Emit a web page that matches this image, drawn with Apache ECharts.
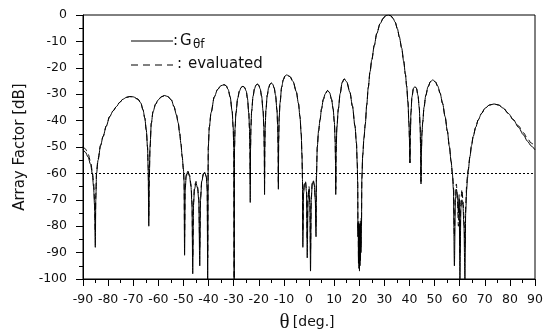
<!DOCTYPE html>
<html><head><meta charset="utf-8">
<script src="https://cdn.jsdelivr.net/npm/echarts@6/dist/echarts.min.js"></script>
<style>html,body{margin:0;padding:0;background:#fff}#c{width:550px;height:335px}</style>
</head><body><div id="c"></div>
<script>
// angle samples (deg)
const theta = [
-90,-89,-88,-87,-86.3,-85.8,-85.4,-85.1,
-84.9,-84.6,-84.0,-83.0,-82.0,-80.7,-79.4,-78.0,-76.7,-75.4,-74.1,-72.7,-71.4,-70.0,-68.1,-67.0,-66.1,-65.4,-64.8,-64.3,-64.05,-63.8,
-63.6,-63.3,-62.8,-62.1,-61.1,-60.1,-58.8,-57.5,-56.2,-54.8,-53.8,-52.8,-52.1,-51.5,-51.0,-50.5,-50.0,-49.75,-49.55,
-49.3,-48.9,-48.3,-47.6,-47.0,-46.6,-46.3,-46.0,-45.6,-45.0,-44.4,-43.9,-43.5,-43.2,-42.7,-42.0,-41.4,-40.9,-40.55,-40.35,
-40.1,-39.7,-39.0,-37.7,-36.4,-35.1,-33.8,-33.0,-32.2,-31.4,-30.6,-30.2,-29.96,-29.8,
-29.65,-29.45,-29.1,-28.4,-27.7,-27.0,-26.3,-25.7,-25.0,-24.5,-23.98,-23.69,-23.52,-23.4,
-23.29,-23.12,-22.84,-22.28,-21.72,-21.16,-20.6,-20.02,-19.44,-18.86,-18.28,-17.99,-17.82,-17.7,
-17.59,-17.43,-17.16,-16.62,-16.08,-15.54,-15.0,-14.44,-13.88,-13.32,-12.76,-12.48,-12.31,-12.2,
-12.07,-11.87,-11.54,-10.88,-10.22,-9.56,-8.9,-7.62,-6.34,-5.06,-4.2,-3.6,-3.1,-2.8,-2.6,-2.45,
-2.2,-1.8,-1.4,-1.0,-0.7,-0.4,0.0,0.35,0.6,0.9,1.3,1.7,2.1,2.5,2.8,
2.95,3.3,3.8,4.4,5.0,5.7,6.5,7.4,8.2,9.0,9.6,10.1,10.4,10.55,10.65,
10.8,11.1,11.7,12.4,13.2,14.0,15.0,16.3,17.3,18.3,18.9,19.2,19.4,
19.5,19.6,19.7,19.8,19.9,20.0,20.1,20.2,20.3,20.4,20.5,20.6,20.7,20.8,20.9,
21.05,21.4,21.9,22.4,23.0,23.6,24.3,25.0,26.0,27.0,28.3,29.6,30.6,31.6,32.6,33.5,34.3,35.2,36.0,36.9,37.7,38.4,38.9,39.4,39.8,40.05,40.2,
40.35,40.6,41.0,41.6,42.2,42.8,43.4,43.9,44.25,44.45,44.6,
44.75,45.0,45.3,45.8,46.5,47.4,48.4,49.3,50.3,51.3,52.2,53.2,54.2,55.1,55.9,56.6,57.1,57.5,
57.9,58.3,58.7,59.1,59.5,59.8,60.1,60.5,60.9,61.3,61.7,62.1,62.4,62.8,
63.1,63.4,64.1,64.7,65.4,66.4,67.4,68.7,70.1,71.9,73.7,75.5,77.4,79.4,81.4,83.4,85.4,87.0,88.5,90
];
// G_theta_f (dB)
const gainSolid = [
-51.0,-52.0,-53.8,-56.5,-60,-65,-72,-88,
-70,-60,-55,-49.5,-46,-42,-38.5,-36.3,-34.7,-33.1,-31.9,-31.2,-30.9,-31.0,-31.9,-33.3,-35.9,-39,-43.5,-50,-58,-80,
-62,-50,-41,-36.6,-33.8,-32.2,-31,-30.5,-30.9,-32.2,-34.6,-37.8,-40.8,-44.8,-48.8,-53.6,-58.5,-63,-91,
-66,-61.2,-59.3,-61,-65,-72,-98,-72,-66,-63.7,-65.5,-70,-95,-70,-63,-60.2,-59.7,-61.5,-66,-100,
-50,-42.5,-37,-31,-28.2,-26.8,-26.4,-26.8,-28.2,-31,-36.5,-42.5,-50,-100,
-50,-43,-37.2,-31.6,-28.8,-27.4,-27.0,-27.4,-28.8,-31.6,-37.2,-43,-51,-71,
-51,-42.2,-36.4,-30.8,-28.0,-26.6,-26.2,-26.6,-28.0,-30.8,-36.4,-42.2,-50,-68,
-50,-41.8,-36,-30.4,-27.6,-26.2,-25.8,-26.2,-27.6,-30.4,-36,-41.8,-50,-66,
-47,-38.8,-33.3,-27.3,-24.5,-23.1,-22.7,-23.3,-25.2,-29,-33.5,-38.5,-45,-53,-62,-88,
-68,-64,-63.5,-67,-92,-70,-66,-72,-97,-70,-64,-63,-64.5,-70,-84,
-62,-50,-44,-39.7,-35.5,-32,-29.8,-28.6,-29.4,-32,-35.5,-40.5,-47,-55,-68,
-52,-42.5,-35.5,-29.8,-25.6,-24.2,-25.3,-29.3,-34.5,-42,-48.5,-56,-64,
-84,-79,-94,-80,-96,-81,-97,-80,-95,-79,-93,-80,-90,-78,-80,
-62,-53,-46.5,-41.5,-34,-27.5,-21.5,-17,-11.5,-7,-3.3,-1.2,-0.2,0,-0.3,-1.3,-2.7,-5.2,-8.4,-12.5,-17.5,-22.5,-27,-33,-41,-48,-56,
-46,-37,-31,-27.8,-27.1,-27.8,-30.5,-35,-42,-50,-64,
-52,-44.5,-40.5,-35,-30.5,-27.2,-25.2,-24.6,-25.3,-27,-29.6,-33.5,-38.5,-44,-49.8,-55.5,-60,-66,
-95,-70,-66,-68,-75,-70,-100,-73,-70,-72,-80,-100,-75,-66,
-62,-59,-53.6,-49.5,-46,-42.5,-39.7,-37.3,-35.3,-34.1,-33.7,-34.1,-35.3,-37.3,-39.7,-42.5,-45.4,-47.8,-49.6,-51.1
];
// evaluated (dB)
const gainEval = [
-49.8,-50.8,-52.5,-55.5,-59,-63,-70,-82,
-68,-59,-54.5,-49.3,-46,-42,-38.5,-36.3,-34.7,-33.1,-31.9,-31.2,-30.9,-31.0,-31.9,-33.3,-35.9,-39,-43.5,-50,-57,-76,
-61,-50,-41,-36.6,-33.8,-32.2,-31,-30.5,-30.9,-32.2,-34.6,-37.8,-40.8,-44.8,-48.8,-53.6,-58.5,-63,-84,
-65,-60.5,-59,-60.5,-64,-70,-92,-71,-65,-63,-65,-69,-88,-69,-62.5,-60,-59.5,-61,-65,-92,
-50,-42.5,-37,-31,-28.2,-26.8,-26.4,-26.8,-28.2,-31,-36.5,-42.5,-50,-100,
-50,-43,-37.2,-31.6,-28.8,-27.4,-27.0,-27.4,-28.8,-31.6,-37.2,-43,-51,-64,
-51,-42.2,-36.4,-30.8,-28.0,-26.6,-26.2,-26.6,-28.0,-30.8,-36.4,-42.2,-50,-64,
-50,-41.8,-36,-30.4,-27.6,-26.2,-25.8,-26.2,-27.6,-30.4,-36,-41.8,-50,-64,
-47,-38.8,-33.3,-27.3,-24.5,-23.1,-22.7,-23.3,-25.2,-29,-33.5,-38.5,-45,-53,-62,-82,
-67,-63.5,-63,-66,-85,-69,-65,-70,-90,-69,-63.5,-62.5,-64,-69,-80,
-61,-50,-44,-39.7,-35.5,-32,-29.8,-28.6,-29.4,-32,-35.5,-40.5,-47,-55,-66,
-52,-42.5,-35.5,-29.8,-25.6,-24.2,-25.3,-29.3,-34.5,-42,-48.5,-56,-63,
-82,-78,-92,-79,-94,-80,-95,-79,-93,-78,-91,-79,-88,-77,-78,
-62,-53,-46.5,-41.5,-34,-27.5,-21.5,-17,-11.5,-7,-3.3,-1.2,-0.2,0,-0.3,-1.3,-2.7,-5.2,-8.4,-12.5,-17.5,-22.5,-27,-33,-41,-48,-56,
-46,-37,-31,-27.8,-27.1,-27.8,-30.5,-35,-42,-50,-63,
-52,-44.5,-40.5,-35,-30.5,-27.2,-25.2,-24.6,-25.3,-27,-29.6,-33.5,-38.5,-44,-49.8,-55.5,-60,-64,
-84,-66,-64,-70,-80,-68,-90,-70,-66,-70,-76,-88,-72,-64,
-61,-58.5,-53.6,-49.5,-46,-42.5,-39.7,-37.3,-35.3,-34.1,-33.7,-34.1,-35.3,-37.3,-39.7,-42,-44.6,-46.8,-48.5,-49.8
];
const xTickValues = [-90,-80,-70,-60,-50,-40,-30,-20,-10,0,10,20,30,40,50,60,70,80,90];
const yTickValues = [-100,-90,-80,-70,-60,-50,-40,-30,-20,-10,0];
const refLevel = -60;
const seriesNames = ['G\u03b8f', 'evaluated'];

const solidData = theta.map((t, i) => [t, gainSolid[i]]);
const evalData = theta.map((t, i) => [t, gainEval[i]]);

const chart = echarts.init(document.getElementById('c'), null, {renderer: 'canvas'});
const FONT = 'DejaVu Sans';
function axisBase() {
  return {
    axisLine: {show: true, onZero: false, lineStyle: {color: '#000', width: 1}},
    axisTick: {show: true, inside: false, length: 7, lineStyle: {color: '#000', width: 1}},
    minorTick: {show: true, splitNumber: 2, length: 4, lineStyle: {color: '#000', width: 1}},
    splitLine: {show: false},
    minorSplitLine: {show: false}
  };
}
chart.setOption({
  animation: false,
  backgroundColor: '#fff',
  grid: {left: 83, right: 15, top: 15, bottom: 56, show: true, borderColor: '#000', borderWidth: 1, outerBoundsMode: 'none', containLabel: false},
  xAxis: Object.assign(axisBase(), {
    type: 'value', position: 'bottom',
    min: xTickValues[0], max: xTickValues[xTickValues.length - 1],
    interval: xTickValues[1] - xTickValues[0],
    axisLabel: {color: '#111', fontFamily: FONT, fontSize: 12.5, margin: 14, showMinLabel: true, showMaxLabel: true, formatter: v => String(v)}
  }),
  yAxis: Object.assign(axisBase(), {
    type: 'value', position: 'left',
    min: yTickValues[0], max: yTickValues[yTickValues.length - 1],
    interval: yTickValues[1] - yTickValues[0],
    axisLabel: {color: '#111', fontFamily: FONT, fontSize: 12.5, margin: 16, formatter: v => String(v)}
  }),
  series: [
    {
      name: seriesNames[1], type: 'line', data: evalData, showSymbol: false, symbol: 'none',
      smooth: 0.3, smoothMonotone: 'x', z: 2,
      lineStyle: {color: '#000', width: 1, type: [6, 4]}
    },
    {
      name: seriesNames[0], type: 'line', data: solidData, showSymbol: false, symbol: 'none',
      smooth: 0.3, smoothMonotone: 'x', z: 3,
      lineStyle: {color: '#000', width: 1},
      markLine: {
        silent: true, symbol: 'none', label: {show: false},
        lineStyle: {color: '#000', width: 1, type: [2, 2]},
        data: [{yAxis: refLevel}]
      }
    }
  ],
  graphic: [
    {type: 'line', shape: {x1: 131, y1: 41, x2: 173, y2: 41}, style: {stroke: '#000', lineWidth: 1}},
    {type: 'text', x: 173, y: 41, style: {text: ':', fontFamily: FONT, fontSize: 15, fill: '#111', verticalAlign: 'middle'}},
    {type: 'text', x: 180, y: 41, style: {text: 'G', fontFamily: FONT, fontSize: 15, fill: '#111', verticalAlign: 'middle'}},
    {type: 'text', x: 193, y: 45, style: {text: '\u03b8f', fontFamily: FONT, fontSize: 12, fill: '#111', verticalAlign: 'middle'}},
    {type: 'line', shape: {x1: 131, y1: 65, x2: 173, y2: 65}, style: {stroke: '#000', lineWidth: 1, lineDash: [7, 5]}},
    {type: 'text', x: 177, y: 64, style: {text: ':', fontFamily: FONT, fontSize: 15, fill: '#111', verticalAlign: 'middle'}},
    {type: 'text', x: 188, y: 64, style: {text: seriesNames[1], fontFamily: FONT, fontSize: 15, fill: '#111', verticalAlign: 'middle'}},
    {type: 'text', x: 20, y: 147, rotation: Math.PI / 2, style: {text: 'Array Factor [dB]', fontFamily: FONT, fontSize: 15, fill: '#111', align: 'center', verticalAlign: 'middle'}},
    {type: 'text', x: 307, y: 322, style: {
      text: '{t|\u03b8} {n|[deg.]}', align: 'center', verticalAlign: 'middle', fill: '#111',
      rich: {t: {fontFamily: 'Liberation Serif', fontSize: 21, fill: '#111'}, n: {fontFamily: FONT, fontSize: 14, fill: '#111'}}
    }}
  ]
});
</script>
</body></html>
